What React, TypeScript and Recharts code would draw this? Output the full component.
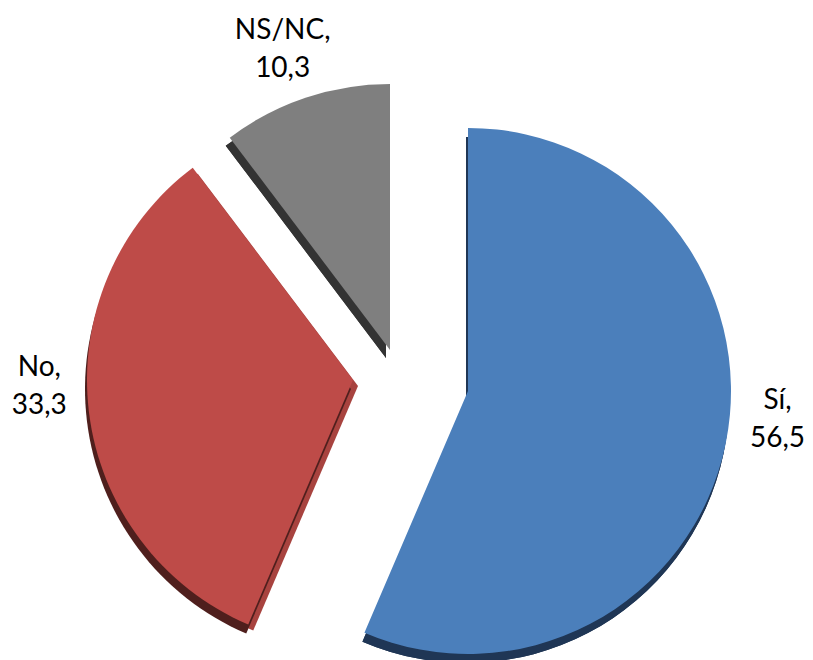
import React from 'react';
import { PieChart, Pie, Cell } from 'recharts';

// answers in percent
const categories = ['Sí', 'No', 'NS/NC'];
const values = [56.5, 33.3, 10.3];

const topColors = ['#4b7fbb', '#be4b48', '#7f7f7f'];
const rimColors = ['#1f3655', '#4f1f1d', '#333333'];
const faceColors = ['#1f3655', '#a8433f', '#333333'];

// where each exploded slice has its point, its radius, 3d depth and label nudges
const slicePos = [
  { cx: 468, cy: 391, r: 263 },
  { cx: 353, cy: 380, r: 266 },
  { cx: 390, cy: 350, r: 266 },
];
const rimDepth = [
  { dx: -2, dy: 9 },
  { dx: -2, dy: 9 },
  { dx: -4, dy: 8 },
];
const faceDepth = [
  { dx: -2, dy: 9 },
  { dx: 5, dy: 6 },
  { dx: -4, dy: 8 },
];
const labelNudge = [
  { dx: 0, dy: -37 },
  { dx: 3, dy: -33 },
  { dx: -6, dy: 0 },
];

const data = categories.map((name, i) => ({ name, value: values[i] }));

const RADIAN = Math.PI / 180;

const fmt = (v: number) => v.toFixed(1).replace('.', ',');

const makeLabel = (k: number) => (props: any) => {
  if (props.index !== k) return null;
  const r = props.outerRadius + 53;
  const x = props.cx + r * Math.cos(-props.midAngle * RADIAN) + labelNudge[k].dx;
  const y = props.cy + r * Math.sin(-props.midAngle * RADIAN) + labelNudge[k].dy;
  return (
    <text x={x} y={y} textAnchor="middle" fill="#000" fontFamily="Lato" fontSize={28}>
      <tspan x={x} y={y - 9}>{props.name},</tspan>
      <tspan x={x} y={y + 29}>{fmt(props.value)}</tspan>
    </text>
  );
};

const slicePie = (k: number, kind: string, off: { dx: number; dy: number }, color: string, withLabel: boolean) => (
  <Pie
    key={kind + k}
    data={data}
    dataKey="value"
    nameKey="name"
    cx={slicePos[k].cx + off.dx}
    cy={slicePos[k].cy + off.dy}
    outerRadius={slicePos[k].r}
    startAngle={90}
    endAngle={-270}
    stroke="none"
    label={withLabel ? makeLabel(k) : false}
    labelLine={false}
    isAnimationActive={false}
  >
    {data.map((d, i) => (
      <Cell key={d.name} fill={i === k ? color : 'none'} />
    ))}
  </Pie>
);

const App = () => {
  const flat = { dx: 0, dy: 0 };
  return (
    <div style={{ position: 'absolute', left: 0, top: 0, background: '#fff' }}>
      <PieChart width={813} height={660} margin={{ top: 0, right: 0, bottom: 0, left: 0 }}>
        {categories.map((_, k) => slicePie(k, 'face', faceDepth[k], faceColors[k], false))}
        {categories.map((_, k) => slicePie(k, 'rim', rimDepth[k], rimColors[k], false))}
        {categories.map((_, k) => slicePie(k, 'top', flat, topColors[k], true))}
      </PieChart>
    </div>
  );
};

export default App;
